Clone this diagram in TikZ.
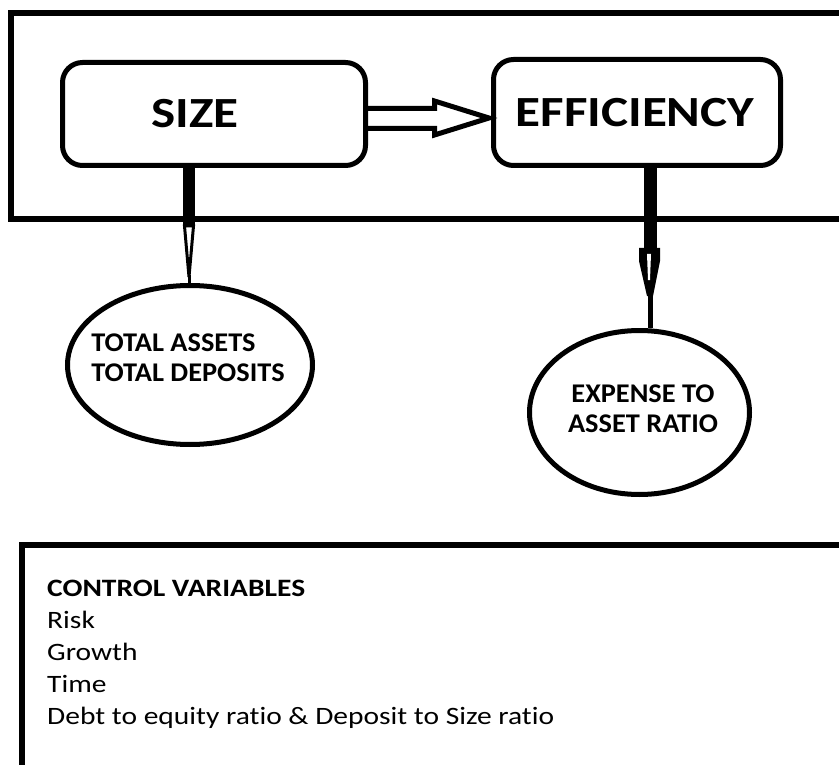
\documentclass[tikz,border=0pt]{standalone}
\usepackage{fontspec}
\setmainfont{Carlito}
\newfontfamily\boxfont{Carlito}[FakeStretch=1.19]
\newfontfamily\ellfont{Carlito}[FakeStretch=1.05]
\newfontfamily\cvfont{Carlito}[FakeStretch=1.18,Ligatures=NoCommon]
\usetikzlibrary{calc,shapes.geometric}
\begin{document}
\begin{tikzpicture}[x=1pt,y=-1pt,
  frame/.style={line width=6pt},
  varbox/.style={draw,line width=5pt,rounded corners=20pt,inner sep=0pt},
  boxtext/.style={inner sep=0pt,font=\boxfont\fontsize{43}{50}\selectfont\bfseries},
  measure/.style={draw,ellipse,line width=5pt,inner sep=0pt},
  meastext/.style={inner sep=0pt,font=\ellfont\fontsize{27}{30}\selectfont\bfseries},
  hollow/.style={line width=5pt,line join=miter}]
\useasboundingbox (0,0) rectangle (839,765);
\clip (0,0) rectangle (839,765);
% frames
\draw[frame] (860,13.5) -- (11,13.5) -- (11,219) -- (860,219);
\draw[frame] (860,545) -- (22,545) -- (22,800);
% boxes
\node[varbox,minimum width=303pt,minimum height=103pt] (size) at (214,114) {};
\node[boxtext] (sizet) at (195,114) {SIZE};
\node[varbox,minimum width=287pt,minimum height=106pt] (eff) at (637,112.5) {};
\node[boxtext] (efft) at (635,112.5) {EFFICIENCY};
% ellipses
\node[measure,minimum width=245pt,minimum height=159pt] (ell1) at (190,365) {};
\node[meastext,align=left] (ell1t) at (188,358) {TOTAL ASSETS\\TOTAL DEPOSITS};
\node[measure,minimum width=220pt,minimum height=164pt] (ell2) at (639.5,412.5) {};
\node[meastext,align=center] (ell2t) at (643,409) {EXPENSE TO\\ASSET RATIO};
% horizontal hollow arrow
\draw[hollow] ($(size.east)+(0,-5.5)$) -- ++(66.5,0) -- ++(0,-7.5)
  -- ($(eff.west)+(-2,5.5)$) -- ($(size.east)+(66.5,21)$) -- ++(0,-6.5)
  -- ($(size.east)+(0,14.5)$);
% size down arrow
\coordinate (sa) at ($(size.south)+(-25,0)$);
\fill ($(sa)+(-6,0)$) rectangle ($(sa)+(6,57)$);
\draw[line width=3pt,fill=white,line join=miter] ($(sa)+(-4.5,58)$) -- ($(sa)+(4.5,58)$) -- ($(ell1.north -| sa)+(0,-6)$) -- cycle;
\draw[line width=3pt] ($(ell1.north -| sa)+(0,-8)$) -- (ell1.north -| sa);
% efficiency down arrow
\coordinate (ea) at ($(eff.south)+(13,0)$);
\fill ($(ea)+(-6.5,0)$) rectangle ($(ea)+(6.5,82)$);
\fill ($(ea)+(-11,80)$) -- ($(ea)+(10,80)$) -- ($(ea)+(10,93)$) -- ($(ea)+(3,128)$)
  -- ($(ea)+(-3,128)$) -- ($(ea)+(-11,93)$) -- cycle;
\fill[white] ($(ea)+(-3,86)$) -- ($(ea)+(1,86)$) -- ($(ea)+(0,112)$) -- ($(ea)+(-2,112)$) -- cycle;
\draw[line width=5pt] ($(ea)+(0,126)$) -- (ell2.north -| ea);
% control variables
\node[anchor=north west,inner sep=0pt,align=left,font=\cvfont\fontsize{25}{32}\selectfont] (cv) at (47,580)
  {\textbf{CONTROL VARIABLES}\\Risk\\Growth\\Time\\Debt to equity ratio \& Deposit to Size ratio};
\end{tikzpicture}
\end{document}
